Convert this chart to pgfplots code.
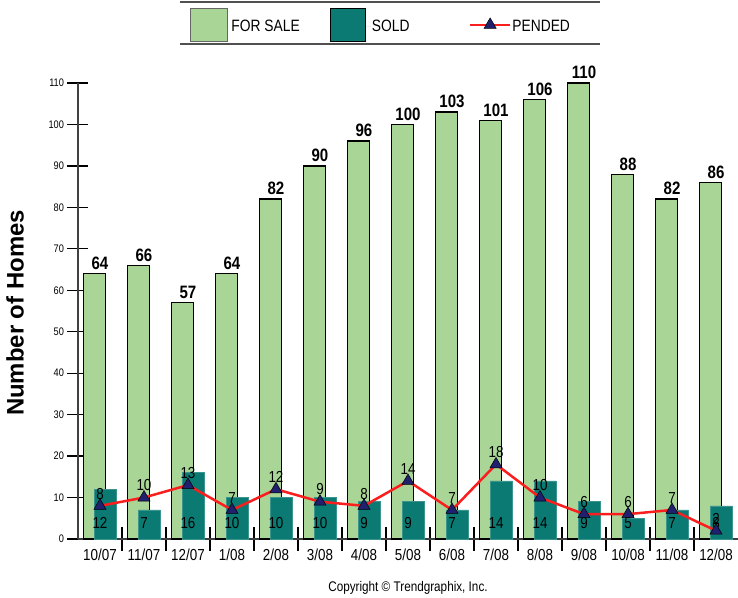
\documentclass[border=0pt]{standalone}
\usepackage{fontspec}
\setmainfont{Liberation Sans}[FakeStretch=0.84]
\newfontfamily\widefont{Liberation Sans}
\usepackage{pgfplots}
\pgfplotsset{compat=1.18}

\definecolor{forsale}{RGB}{169,213,150}
\definecolor{sold}{RGB}{10,122,114}
\definecolor{pended}{RGB}{250,30,30}
\definecolor{tri}{RGB}{32,32,110}
\definecolor{framegray}{RGB}{80,80,80}

\begin{document}
\begin{tikzpicture}
\path[use as bounding box] (-78bp,-59bp) rectangle (660bp,539bp);
\begin{axis}[
scale only axis,
width=660bp, height=456bp,
xmin=-0.5, xmax=14.5,
ymin=0, ymax=110,
axis x line*=bottom,
axis y line*=left,
axis line style={black!75, line width=1.5bp},
xtick={0,...,14},
xticklabels={10/07,11/07,12/07,1/08,2/08,3/08,4/08,5/08,6/08,7/08,8/08,9/08,10/08,11/08,12/08},
major x tick style={draw=none},
minor xtick={0.5,1.5,...,13.5},
minor x tick style={black, line width=1.2bp},
minor tick length=23bp,
ytick={0,10,...,110},
y tick style={black, line width=1.2bp},
major tick length=21bp,
tick align=center,
/pgf/number format/assume math mode=true,
yticklabel style={font=\fontsize{11}{11}\selectfont},
xticklabel style={font=\fontsize{16}{16}\selectfont, yshift=4bp},
clip=false,
ylabel={Number of Homes},
ylabel style={font=\widefont\bfseries\fontsize{24}{24}\selectfont, at={(axis description cs:-0.0955,0.4956)}, anchor=center},
legend columns=3,
legend style={draw=none, fill=none, inner sep=0pt, at={(axis description cs:0.1697,1.1285)}, anchor=west,
  nodes={inner sep=1bp, font=\fontsize{16.5}{16.5}\selectfont},
  /tikz/every even column/.append style={column sep=18bp}},
]
\addplot[ybar, bar width=0.5, bar shift=-0.12, fill=forsale, draw=black, line width=1.2bp,
  nodes near coords, nodes near coords style={font=\bfseries\fontsize{18}{18}\selectfont, black},
  legend image code/.code={\path[draw=none] (0bp,0bp) -- (40bp,0bp); \draw[fill=forsale, draw=black!60, line width=0.6bp] (0bp,-14.5bp) rectangle (37bp,18.5bp);}]
coordinates {(0,64) (1,66) (2,57) (3,64) (4,82) (5,90) (6,96) (7,100) (8,103) (9,101) (10,106) (11,110) (12,88) (13,82) (14,86)};
\addlegendentry{\makebox[80bp][l]{FOR SALE}}
\addplot[ybar, bar width=0.5, bar shift=0.12, fill=sold, draw=sold!80!white, line width=0.6bp,
  nodes near coords, visualization depends on={y \as \rawy},
  nodes near coords style={anchor=center, shift={(axis direction cs:0,3.9-\rawy)}, font=\fontsize{16}{16}\selectfont, black},
  legend image code/.code={\path[draw=none] (0bp,0bp) -- (40bp,0bp); \draw[fill=sold, draw=black, line width=0.8bp] (0bp,-14.5bp) rectangle (35bp,18.5bp);}]
coordinates {(0,12) (1,7) (2,16) (3,10) (4,10) (5,10) (6,9) (7,9) (8,7) (9,14) (10,14) (11,9) (12,5) (13,7) (14,8)};
\addlegendentry{\makebox[78bp][l]{SOLD}}
\addplot[pended, line width=2.5bp, mark=triangle*, mark size=7bp,
  mark options={fill=tri, draw=black, line width=0.5bp},
  nodes near coords, nodes near coords style={anchor=south, yshift=3bp, font=\fontsize{16}{16}\selectfont, black},
  legend image code/.code={\draw[pended, line width=2.5bp] (0bp,1.5bp) -- (40bp,1.5bp); \fill[tri, draw=black, line width=0.5bp] (13.9bp,-2bp) -- (26.1bp,-2bp) -- (20bp,8.5bp) -- cycle;}]
coordinates {(0,8) (1,10) (2,13) (3,7) (4,12) (5,9) (6,8) (7,14) (8,7) (9,18) (10,10) (11,6) (12,6) (13,7) (14,2)};
\addlegendentry{PENDED}
\draw[framegray, line width=2bp] (axis description cs:0.1545,1.1776) -- (axis description cs:0.7909,1.1776);
\draw[framegray, line width=2bp] (axis description cs:0.1545,1.0855) -- (axis description cs:0.7909,1.0855);
\node[font=\fontsize{14}{14}\selectfont] at (axis description cs:0.5,-0.1075) {Copyright © Trendgraphix, Inc.};
\end{axis}
\end{tikzpicture}
\end{document}
